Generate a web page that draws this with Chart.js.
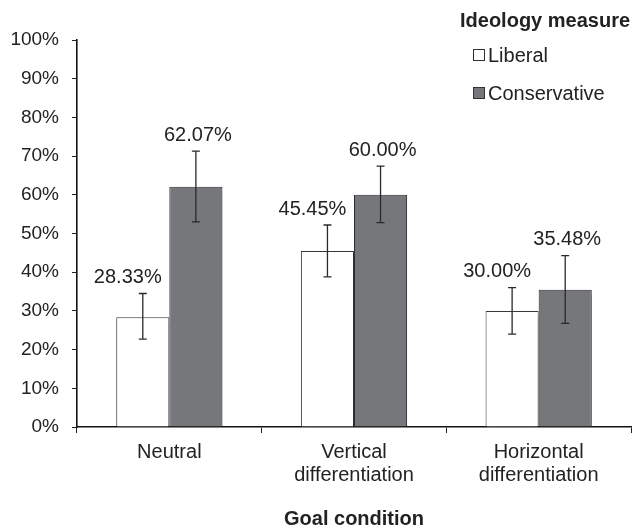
<!DOCTYPE html>
<html>
<head>
<meta charset="utf-8">
<script src="https://cdn.jsdelivr.net/npm/chart.js@4"></script>
<style>
  html, body { margin: 0; padding: 0; background: #fff; }
  #wrap { width: 633px; height: 527px; }
</style>
</head>
<body>
<div id="wrap"><canvas id="grafico"></canvas></div>
<script>
// Datos
const categorias = ['Neutral', ['Vertical', 'differentiation'], ['Horizontal', 'differentiation']];
const liberal = [28.33, 45.45, 30.00];
const conservative = [62.07, 60.00, 35.48];
const liberalLow = [22.7, 38.8, 24.0];
const liberalHigh = [34.5, 52.2, 36.0];
const conservativeLow = [53.0, 52.8, 26.8];
const conservativeHigh = [71.3, 67.4, 44.3];
const legendTitle = 'Ideology measure';
const axisTitle = 'Goal condition';

const FONT = "'Liberation Sans', Arial, sans-serif";
const INK = '#222';

// Sombra de barras
const sombra = {
    id: 'sombra',
    beforeDatasetsDraw(chart) {
        const ctx = chart.ctx;
        ctx.save();
        ctx.shadowColor = 'rgba(0,0,0,0.28)';
        ctx.shadowBlur = 5;
        ctx.shadowOffsetX = 2;
        ctx.shadowOffsetY = 3;
    },
    afterDatasetsDraw(chart) {
        chart.ctx.restore();
    }
};

// Barras de error + etiquetas
const errores = {
    id: 'errores',
    afterDatasetsDraw(chart) {
        const ctx = chart.ctx;
        const y = chart.scales.y;
        chart.data.datasets.forEach((ds, i) => {
            const meta = chart.getDatasetMeta(i);
            meta.data.forEach((bar, j) => {
                const top = y.getPixelForValue(ds.errHigh[j]);
                const bot = y.getPixelForValue(ds.errLow[j]);
                ctx.save();
                ctx.strokeStyle = '#2a2a2a';
                ctx.lineWidth = 1.3;
                ctx.beginPath();
                ctx.moveTo(bar.x, top); ctx.lineTo(bar.x, bot);
                ctx.moveTo(bar.x - 4, top); ctx.lineTo(bar.x + 4, top);
                ctx.moveTo(bar.x - 4, bot); ctx.lineTo(bar.x + 4, bot);
                ctx.stroke();
                ctx.fillStyle = INK;
                ctx.font = '20px ' + FONT;
                ctx.textAlign = 'center';
                ctx.textBaseline = 'bottom';
                ctx.fillText(ds.data[j].toFixed(2) + '%', bar.x + ds.labelShift, top - 6);
                ctx.restore();
            });
        });
    }
};

// Leyenda
const leyenda = {
    id: 'leyenda',
    afterDraw(chart) {
        const ctx = chart.ctx;
        ctx.save();
        ctx.fillStyle = INK;
        ctx.font = 'bold 20px ' + FONT;
        ctx.textAlign = 'left';
        ctx.textBaseline = 'middle';
        ctx.fillText(legendTitle, 460, 21);
        chart.data.datasets.forEach((ds, i) => {
            const cy = 55 + i * 38;
            ctx.fillStyle = ds.backgroundColor;
            ctx.strokeStyle = '#333';
            ctx.lineWidth = 1;
            ctx.fillRect(473.5, cy - 5.5, 11, 11);
            ctx.strokeRect(473.5, cy - 5.5, 11, 11);
            ctx.fillStyle = INK;
            ctx.font = '20px ' + FONT;
            ctx.fillText(ds.label, 488, cy + 1);
        });
        ctx.restore();
    }
};

new Chart(document.getElementById('grafico'), {
    type: 'bar',
    data: {
        labels: categorias,
        datasets: [
            { label: 'Liberal', data: liberal, errLow: liberalLow, errHigh: liberalHigh, labelShift: -15,
              backgroundColor: '#ffffff', borderColor: '#3a3a3a', borderWidth: 1 },
            { label: 'Conservative', data: conservative, errLow: conservativeLow, errHigh: conservativeHigh, labelShift: 2,
              backgroundColor: '#76777b', borderColor: '#2e2e2e', borderWidth: 1 }
        ]
    },
    options: {
        responsive: true,
        maintainAspectRatio: false,
        animation: false,
        layout: { padding: { top: 40, right: 2, left: 0, bottom: 0 } },
        datasets: { bar: { categoryPercentage: 0.575, barPercentage: 1.0 } },
        plugins: { legend: { display: false }, tooltip: { enabled: false } },
        scales: {
            x: {
                grid: { drawOnChartArea: false, drawTicks: true, tickLength: 6, color: '#222', offset: true },
                border: { display: true, color: '#111', width: 1.6 },
                ticks: { color: INK, font: { family: FONT, size: 20, lineHeight: 1.15 }, padding: 8, maxRotation: 0 },
                title: { display: true, text: axisTitle, color: INK, font: { family: FONT, size: 20, weight: 'bold' }, padding: { top: 24, bottom: -4 } },
                afterFit: s => { s.height = 100; }
            },
            y: {
                min: 0, max: 100,
                ticks: { stepSize: 10, color: INK, font: { family: FONT, size: 19 }, padding: 13, callback: v => v + '%' },
                grid: { drawOnChartArea: false, drawTicks: true, tickLength: 5, color: '#222' },
                border: { display: true, color: '#111', width: 1.6 },
                afterFit: s => { s.width = 77; }
            }
        }
    },
    plugins: [sombra, errores, leyenda]
});
</script>
</body>
</html>
